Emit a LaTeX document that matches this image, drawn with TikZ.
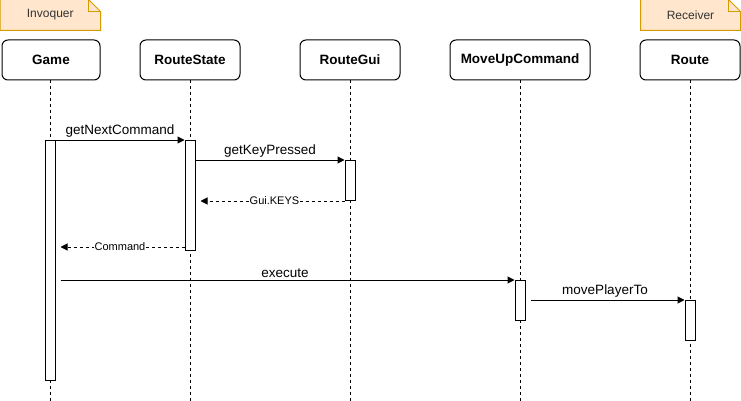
\documentclass[tikz,border=0pt]{standalone}
\usepackage{fontspec}
\setmainfont{Liberation Sans}
\usepackage{xcolor}
\usetikzlibrary{arrows.meta,positioning}

\definecolor{notefill}{HTML}{FFE6CC}
\definecolor{noteline}{HTML}{D79B00}

\begin{document}
\begin{tikzpicture}[x=1pt, y=-1pt, line width=1pt,
    actor/.style={rectangle, draw, fill=white, rounded corners=6pt, minimum height=40pt, inner sep=0pt, font=\fontsize{13.5}{15}\selectfont\bfseries},
    note/.style={rectangle, minimum height=30pt, inner sep=0pt, font=\fontsize{12}{14}\selectfont, text=black!80},
    act/.style={rectangle, draw, fill=white, minimum width=10pt, inner sep=0pt, anchor=north},
    life/.style={dashed, dash pattern=on 3pt off 3pt},
    msg/.style={-{Triangle[length=7pt,width=7pt]}},
    ret/.style={-{Triangle[length=7pt,width=7pt]}, dash pattern=on 3pt off 3pt, shorten >=5pt},
    lbl/.style={font=\fontsize{13.5}{15}\selectfont, above, inner sep=2pt},
    rlbl/.style={font=\fontsize{11}{12}\selectfont, fill=white, inner sep=1pt}
]
\useasboundingbox (0,0) rectangle (741,401);

% Notes
\node[note, minimum width=99.5pt] (invoq) at (50.25,15) {};
\draw[noteline, fill=notefill] (invoq.north west) -- ([xshift=-12pt]invoq.north east) -- ([yshift=-12pt]invoq.north east) -- (invoq.south east) -- (invoq.south west) -- cycle;
\draw[noteline] ([xshift=-12pt]invoq.north east) -- ([xshift=-12pt,yshift=-12pt]invoq.north east) -- ([yshift=-12pt]invoq.north east);
\node[note] at (invoq) {Invoquer};

\node[note, minimum width=99pt] (recv) at (690.5,15) {};
\draw[noteline, fill=notefill] (recv.north west) -- ([xshift=-12pt]recv.north east) -- ([yshift=-12pt]recv.north east) -- (recv.south east) -- (recv.south west) -- cycle;
\draw[noteline] ([xshift=-12pt]recv.north east) -- ([xshift=-12pt,yshift=-12pt]recv.north east) -- ([yshift=-12pt]recv.north east);
\node[note] at (recv) {Receiver};

% Lifelines
\draw[life] (50,80) -- (50,401);
\draw[life] (190,80) -- (190,401);
\draw[life] (350,80) -- (350,401);
\draw[life] (520,80) -- (520,401);
\draw[life] (690,80) -- (690,401);

% Actors
\node[actor, minimum width=98pt] (game) at (51,60) {Game};
\node[actor, minimum width=100pt] (rstate) at (190,60) {RouteState};
\node[actor, minimum width=100pt] (rgui) at (350,60) {RouteGui};
\node[actor, minimum width=140pt] (moveup) at (520,60) {MoveUpCommand};
\node[actor, minimum width=100pt] (route) at (690,60) {Route};

% Activations
\node[act, minimum height=240pt] (gameact) at (50,140) {};
\node[act, minimum height=110pt] (rsact) at (190,140) {};
\node[act, minimum height=40pt] (guiact) at (350,160) {};
\node[act, minimum height=40pt] (mvact) at (520,280) {};
\node[act, minimum height=40pt] (routeact) at (690,300) {};
\coordinate (cmdret) at ([yshift=4pt]rsact.south west);

% Messages
\draw[msg] (gameact.north east) -- node[lbl] {getNextCommand} (rsact.north west);
\draw[msg] (rsact.east |- guiact.north) -- node[lbl] {getKeyPressed} (guiact.north west);
\draw[ret] (guiact.south west) -- node[rlbl, pos=0.47] {Gui.KEYS} (rsact.east |- guiact.south);
\draw[ret] (cmdret) -- node[rlbl, pos=0.5] {Command} (gameact.east |- cmdret);
\draw[msg, shorten <=5pt] (gameact.east |- mvact.north) -- node[lbl] {execute} (mvact.north west);
\draw[msg, shorten <=5pt] (mvact.east |- routeact.north) -- node[lbl] {movePlayerTo} (routeact.north west);

\end{tikzpicture}
\end{document}
